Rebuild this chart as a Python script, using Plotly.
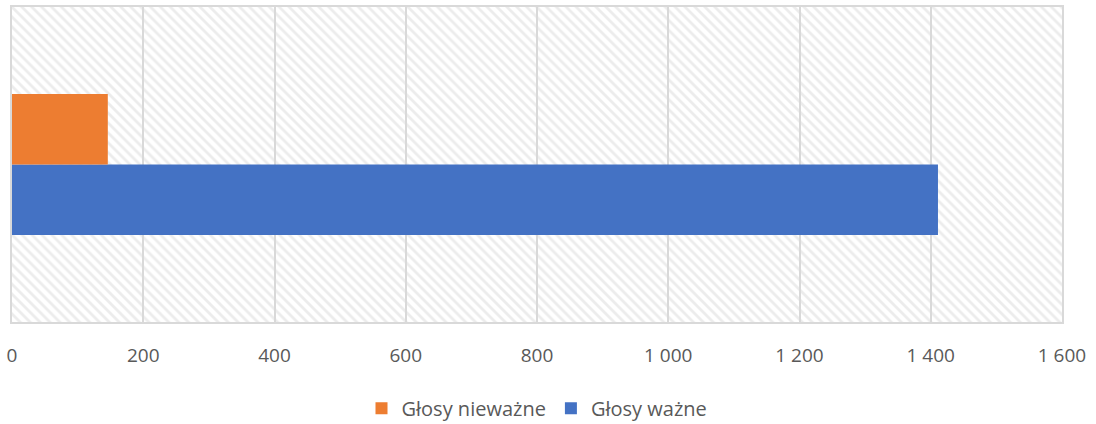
import plotly.graph_objects as go

# data
category = ["Głosy"]
valid_votes = [1411]
invalid_votes = [146]
x_ticks = [0, 200, 400, 600, 800, 1000, 1200, 1400, 1600]

X_MAX = 1600
colors = {"Głosy ważne": "#4472c4", "Głosy nieważne": "#ed7d31"}
grid_color = "#d9d9d9"
text_color = "#595959"

fig = go.Figure()

# hatched plot background on the main (hidden numeric) y axis
fig.add_trace(
    go.Scatter(
        x=[0, X_MAX, X_MAX, 0, 0],
        y=[0, 0, 1, 1, 0],
        mode="none",
        fill="toself",
        fillpattern=dict(
            shape="\\",
            fgcolor=grid_color,
            bgcolor="rgba(0,0,0,0)",
            size=7,
            solidity=0.4,
        ),
        showlegend=False,
        hoverinfo="skip",
        xaxis="x",
        yaxis="y",
    )
)

# bars on an overlaying category axis so they sit above the hatch
for name, vals in [("Głosy ważne", valid_votes), ("Głosy nieważne", invalid_votes)]:
    fig.add_trace(
        go.Bar(
            name=name,
            y=category,
            x=vals,
            orientation="h",
            marker=dict(color=colors[name], line=dict(width=0)),
            xaxis="x",
            yaxis="y2",
        )
    )

fig.update_layout(
    width=1096,
    height=424,
    margin=dict(l=12, r=34, t=7, b=102, autoexpand=False),
    paper_bgcolor="white",
    plot_bgcolor="white",
    barmode="group",
    bargap=0.552,
    separators=", ",
    font=dict(family="Open Sans, Noto Sans, sans-serif", size=19, color=text_color),
    xaxis=dict(
        range=[0, X_MAX],
        tickvals=x_ticks,
        tickformat=",d",
        showgrid=True,
        gridcolor=grid_color,
        gridwidth=1.5,
        zeroline=False,
        showline=True,
        linecolor=grid_color,
        linewidth=1.5,
        mirror=True,
        ticks="",
        ticklabelstandoff=15,
        automargin=False,
        tickfont=dict(size=19, color=text_color),
    ),
    yaxis=dict(
        range=[0, 1],
        visible=False,
        showgrid=False,
        fixedrange=True,
    ),
    yaxis2=dict(
        overlaying="y",
        type="category",
        showticklabels=False,
        showgrid=False,
        zeroline=False,
        showline=True,
        linecolor=grid_color,
        linewidth=1.5,
        mirror=True,
        ticks="",
        automargin=False,
    ),
    legend=dict(
        orientation="h",
        x=0.5,
        xanchor="center",
        y=-0.274,
        yanchor="middle",
        traceorder="reversed",
        font=dict(size=20, color=text_color),
        itemwidth=30,
    ),
)

# drop the default page margin so the figure sits at the window's corner
fig.write_html(
    "out.html",
    config={"displayModeBar": False},
    post_script="document.body.style.margin='0';",
)
